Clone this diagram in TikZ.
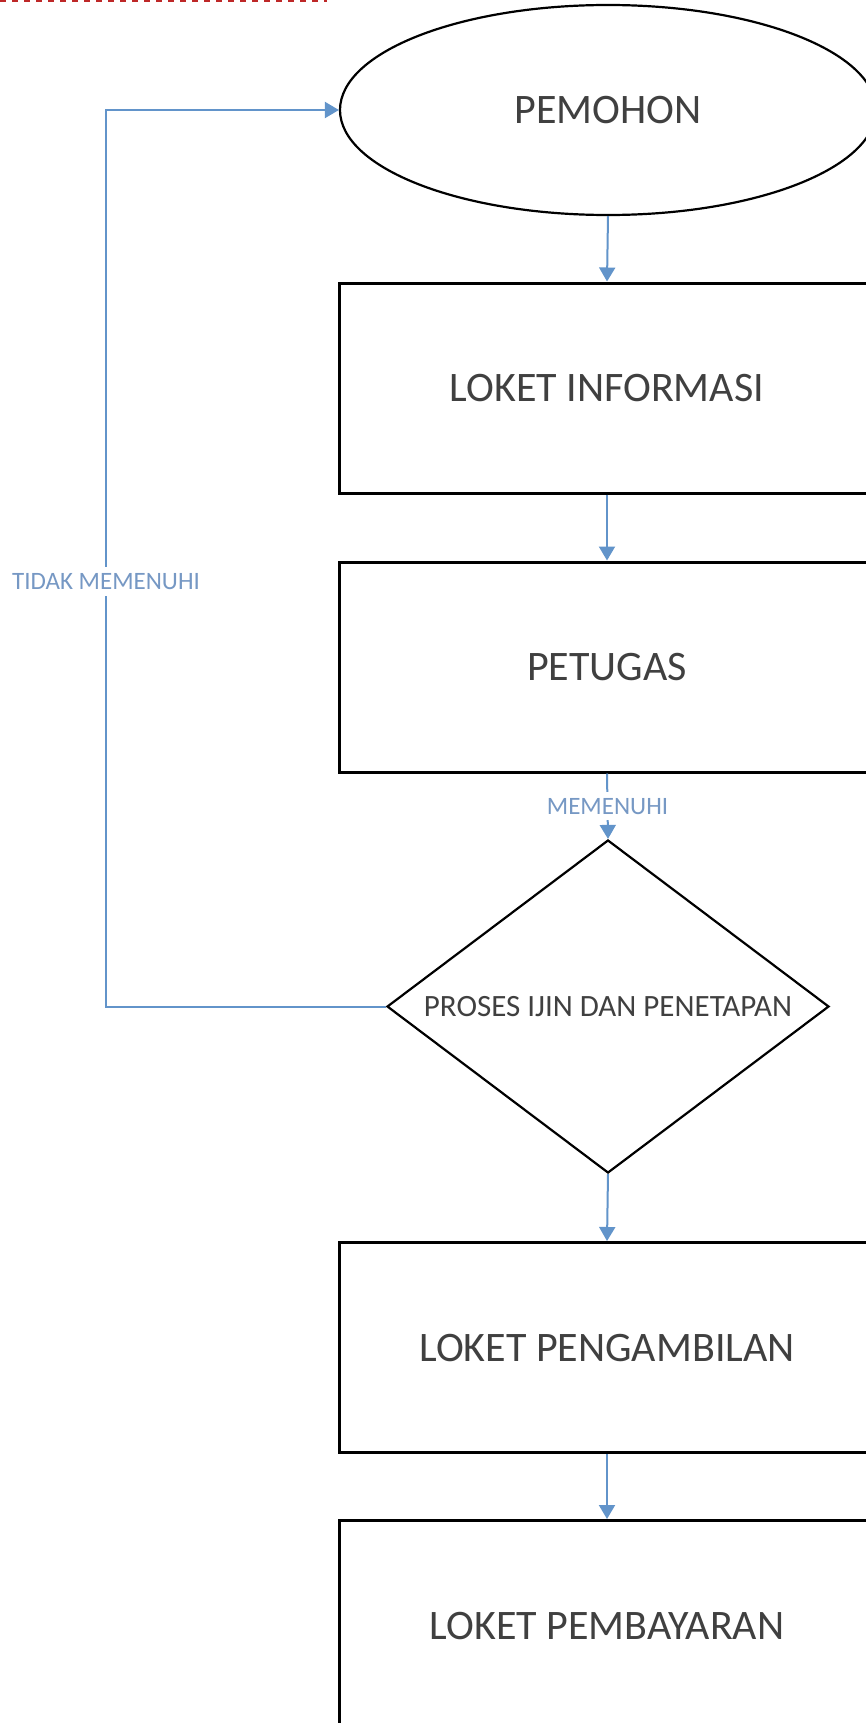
\documentclass[tikz,border=0pt]{standalone}
\usepackage{fontspec}
\setmainfont{Carlito}
\usepackage{tikz}
\usetikzlibrary{shapes.geometric}
\usetikzlibrary{arrows.meta}

\definecolor{garisbiru}{RGB}{98,148,202}
\definecolor{labelbiru}{RGB}{118,152,196}
\definecolor{teksabu}{RGB}{64,64,64}
\definecolor{merahtitik}{RGB}{190,40,40}

\tikzset{
    kotak/.style={draw=black, line width=1.5pt, fill=white, inner sep=0pt,
        minimum width=268pt, minimum height=105pt, text=teksabu,
        font=\fontsize{21}{25}\selectfont},
    oval/.style={ellipse, draw=black, line width=1.1pt, fill=white, inner sep=0pt,
        minimum width=268pt, minimum height=105pt, text=teksabu,
        font=\fontsize{21}{25}\selectfont},
    keputusan/.style={diamond, draw=black, line width=1.1pt, fill=white, inner sep=0pt,
        aspect=1.327, minimum width=221pt, minimum height=166.5pt, text=teksabu,
        font=\fontsize{15.5}{18}\selectfont},
    panah/.style={draw=garisbiru, line width=1pt,
        -{Triangle[width=8pt,length=7pt]}, garisbiru},
    kecil/.style={fill=white, inner xsep=1pt, inner ysep=3pt, text=labelbiru,
        font=\fontsize{12.5}{14}\selectfont}
}

\begin{document}
\begin{tikzpicture}[x=0.5pt, y=-0.5pt]
    % Page frame
    \path[use as bounding box, fill=white] (0,0) rectangle (866,1723);

    % Dotted red mark at the top
    \draw[merahtitik, line width=1pt, dash pattern=on 3pt off 3pt] (0,1.5) -- (327,1.5);

    % Flow nodes
    \node[oval] (pemohon) at (608,110) {PEMOHON};
    \node[kotak] (informasi) at (607,388) {LOKET INFORMASI};
    \node[kotak] (petugas) at (607,667) {PETUGAS};
    \node[keputusan] (proses) at (608,1006.5) {PROSES IJIN DAN PENETAPAN};
    \node[kotak] (pengambilan) at (607,1347.5) {LOKET PENGAMBILAN};
    \node[kotak] (pembayaran) at (607,1625.5) {LOKET PEMBAYARAN};

    % Corner of the return line
    \coordinate (balik) at (106,110);

    % Connectors
    \draw[panah] (pemohon.south) -- (informasi.north);
    \draw[panah] (informasi.south) -- (petugas.north);
    \draw[panah] (petugas.south) -- node[kecil] {MEMENUHI} (proses.north);
    \draw[panah] (proses.south) -- (pengambilan.north);
    \draw[panah] (pengambilan.south) -- (pembayaran.north);
    \draw[panah] (proses.west) -| node[kecil, pos=0.737] {TIDAK MEMENUHI} (balik) -- (pemohon.west);

\end{tikzpicture}
\end{document}
